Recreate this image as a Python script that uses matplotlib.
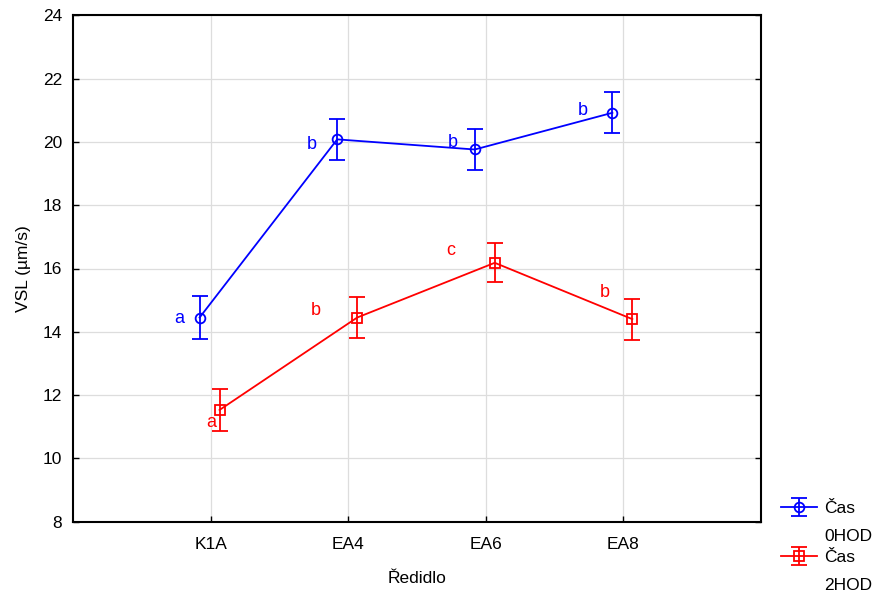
import numpy as np
import matplotlib.pyplot as plt

plt.rcParams['font.family'] = ['Liberation Sans', 'DejaVu Sans']

# ---------------- DATA ----------------
groups = ["K1A", "EA4", "EA6", "EA8"]
series = ["Čas 0HOD", "Čas 2HOD"]

vsl_0hod = [14.45, 20.08, 19.76, 20.92]
err_0hod = [0.67, 0.65, 0.66, 0.65]
vsl_2hod = [11.53, 14.45, 16.18, 14.40]
err_2hod = [0.66, 0.65, 0.62, 0.65]

letters_0hod = ["a", "b", "b", "b"]
letters_2hod = ["a", "b", "c", "b"]

# letter offsets from the point (points)
off_0hod = [(-15, -1), (-18, -4), (-16, 5), (-21, 2)]
off_2hod = [(-6, -9), (-30, 5), (-32, 9), (-20, 19)]

# ---------------- PLOT ----------------
fig = plt.figure(figsize=(8.87, 6.0), dpi=100)
ax = fig.add_axes([73 / 887, 1 - 521.7 / 600, (761 - 73) / 887, (521.7 - 15.3) / 600])

x = np.arange(len(groups))
blue = "#0000ff"
red = "#ff0000"

style = dict(lw=1.3, ms=7, mfc="none", mew=1.3, capsize=6, capthick=1.3,
             elinewidth=1.3, zorder=3)
h1 = ax.errorbar(x - 0.08, vsl_0hod, yerr=err_0hod, color=blue, marker="o", **style)
h2 = ax.errorbar(x + 0.065, vsl_2hod, yerr=err_2hod, color=red, marker="s", **style)

for xi, yi, t, o in zip(x - 0.08, vsl_0hod, letters_0hod, off_0hod):
    ax.annotate(t, (xi, yi), xytext=o, textcoords="offset points",
                ha="center", va="center", color=blue, fontsize=13)
for xi, yi, t, o in zip(x + 0.065, vsl_2hod, letters_2hod, off_2hod):
    ax.annotate(t, (xi, yi), xytext=o, textcoords="offset points",
                ha="center", va="center", color=red, fontsize=13)

ax.set_xlim(-1, 4)
ax.set_ylim(8, 24)
ax.set_xticks(x)
ax.set_xticklabels(groups)
ax.set_yticks(np.arange(8, 25, 2))
ax.tick_params(direction="in", length=4, labelsize=12.5, width=1,
               top=False, right=True)
ax.tick_params(axis="x", pad=11)
ax.tick_params(axis="y", pad=8)
ax.grid(True, color="#dddddd", lw=0.9)
ax.set_axisbelow(True)
for s in ax.spines.values():
    s.set_linewidth(1.5)

ax.set_xlabel("Ředidlo", fontsize=12.5, labelpad=14)
ax.set_ylabel("VSL (µm/s)", fontsize=12.5, labelpad=8)

# legend: handle next to first word, second word on the line below
leg = fig.legend(handles=[h1, h2], labels=[s.split()[0] for s in series],
                 loc="upper left", bbox_to_anchor=(781 / 887, 1 - 501 / 600),
                 frameon=False, fontsize=12.5, handlelength=2.1,
                 handletextpad=0.4, labelspacing=1.95, borderaxespad=0,
                 borderpad=0)
fig.canvas.draw()
for t, s in zip(leg.get_texts(), series):
    bb = t.get_window_extent()
    fig.text(bb.x0 / 887, (bb.y0 - 28) / 600, s.split()[1],
             fontsize=12.5, ha="left", va="bottom")

fig.savefig("out.png", dpi=100)
